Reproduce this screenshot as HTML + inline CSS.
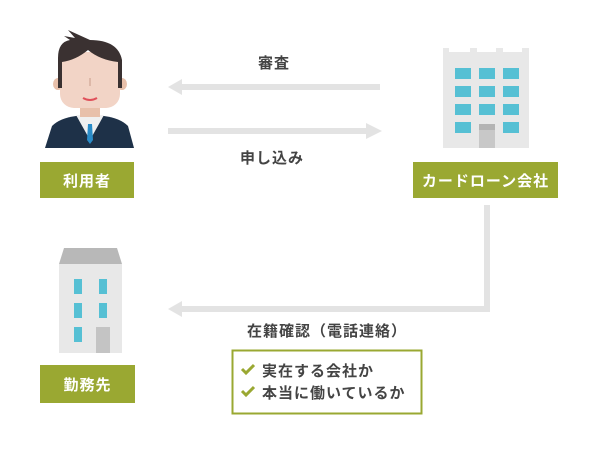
<!DOCTYPE html>
<html><head><meta charset="utf-8"><style>
body{margin:0;background:#fff;width:600px;height:452px;overflow:hidden;position:relative;font-family:"Liberation Sans","Noto Sans CJK JP",sans-serif}
.lab{position:absolute;background:#9aa832;color:#fff;font-size:15px;font-weight:bold;display:flex;align-items:center;justify-content:center;letter-spacing:1px}
.t{position:absolute;color:#444;font-size:15px;font-weight:bold;letter-spacing:1px}
</style></head><body>
<svg width="600" height="452" style="position:absolute;left:0;top:0">
<rect x="180" y="84" width="200" height="6" fill="#e3e3e3"/><polygon points="168,87 182,79 182,95" fill="#e3e3e3"/>
<rect x="168" y="128" width="200" height="6" fill="#e3e3e3"/><polygon points="382,131 366,123 366,139" fill="#e3e3e3"/>
<rect x="484" y="205" width="6" height="107" fill="#e3e3e3"/>
<rect x="180" y="306" width="310" height="6" fill="#e3e3e3"/><polygon points="168,309 182,301 182,317" fill="#e3e3e3"/>
<!-- person -->
<path d="M45 148 L52 126 Q60 118 76 116 L104 116 Q120 118 128 126 L134 148 Z" fill="#1e3148"/>
<path d="M76 115 L90 140 L104 115 Z" fill="#f0f0f0"/>
<rect x="80" y="103" width="20" height="14" fill="#e8c0aa"/>
<polygon points="88,124 92,124 93,140 90,144 87,140" fill="#2a8cc8"/>
<ellipse cx="58" cy="84" rx="5" ry="6" fill="#e8c0aa"/><ellipse cx="122" cy="84" rx="5" ry="6" fill="#e8c0aa"/>
<rect x="60" y="52" width="60" height="56" rx="14" fill="#f2d4c6"/>
<path d="M58 88 L58 58 Q58 42 70 40 L64 36 L75 38 L68 30 L90 40 Q118 40 122 60 L122 88 L118 88 L118 62 Q100 60 88 50 Q76 60 62 62 L62 88 Z" fill="#3a3131"/>
<rect x="89" y="78" width="2" height="8" fill="#ddb8a8"/>
<path d="M83 98 Q90 102 97 98" stroke="#e0505a" stroke-width="2" fill="none"/>
<!-- company building -->
<g fill="#e8e8e8">
<rect x="443" y="52" width="86" height="96"/>
<rect x="443" y="48" width="6" height="5"/><rect x="470" y="48" width="7" height="5"/><rect x="496" y="48" width="7" height="5"/><rect x="522" y="48" width="7" height="5"/>
</g>
<g fill="#56c0d4">
<rect x="455" y="68" width="16" height="11"/><rect x="479" y="68" width="16" height="11"/><rect x="503" y="68" width="16" height="11"/>
<rect x="455" y="86" width="16" height="11"/><rect x="479" y="86" width="16" height="11"/><rect x="503" y="86" width="16" height="11"/>
<rect x="455" y="104" width="16" height="11"/><rect x="479" y="104" width="16" height="11"/><rect x="503" y="104" width="16" height="11"/>
<rect x="455" y="122" width="16" height="11"/><rect x="503" y="122" width="16" height="11"/>
</g>
<rect x="479" y="124" width="16" height="24" fill="#c8c8c8"/><rect x="479" y="124" width="16" height="6" fill="#b4b4b4"/>
<!-- office -->
<polygon points="64,248 117,248 122,264 59,264" fill="#b8b8b8"/>
<rect x="59" y="264" width="63" height="89" fill="#e8e8e8"/>
<g fill="#56c0d4"><rect x="74" y="279" width="8" height="15"/><rect x="99" y="279" width="8" height="15"/><rect x="74" y="303" width="8" height="15"/><rect x="99" y="303" width="8" height="15"/><rect x="74" y="327" width="8" height="15"/></g>
<rect x="96" y="327" width="14" height="26" fill="#c4c4c4"/>
<rect x="232.5" y="350.5" width="189" height="63" fill="#fff" stroke="#9aa832" stroke-width="2"/>
<path d="M242 369 l4 4 l8 -8" stroke="#9aa832" stroke-width="3" fill="none"/>
<path d="M242 391 l4 4 l8 -8" stroke="#9aa832" stroke-width="3" fill="none"/>
</svg>
<div class="lab" style="left:40px;top:162px;width:94px;height:36px">利用者</div>
<div class="lab" style="left:413px;top:162px;width:145px;height:36px">カードローン会社</div>
<div class="lab" style="left:40px;top:365px;width:95px;height:38px">勤務先</div>
<div class="t" style="left:258px;top:52px">審査</div>
<div class="t" style="left:240px;top:147px">申し込み</div>
<div class="t" style="left:247px;top:320px">在籍確認（電話連絡）</div>
<div class="t" style="left:262px;top:360px">実在する会社か</div>
<div class="t" style="left:262px;top:382px">本当に働いているか</div>
</body></html>
